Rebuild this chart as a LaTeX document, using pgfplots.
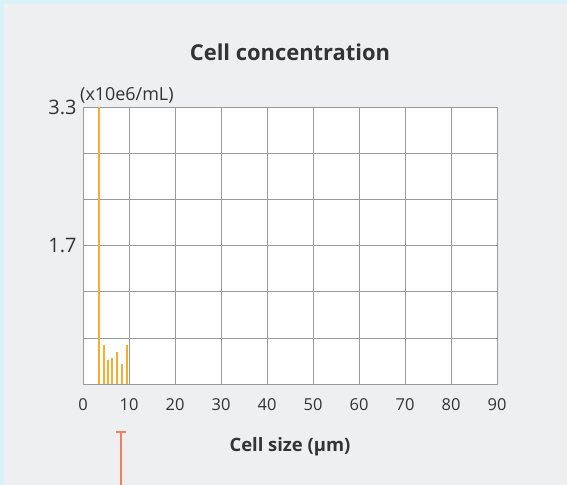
\documentclass[border=0pt]{standalone}
\usepackage{pgfplots}
\pgfplotsset{compat=1.18}
\usepackage{fontspec}
\setmainfont{Open Sans}
\definecolor{bgblue}{HTML}{DAF1F6}
\definecolor{panel}{HTML}{EEEFF0}
\definecolor{gridc}{HTML}{9A9A9A}
\definecolor{barc}{HTML}{F9AC2E}
\definecolor{txt}{HTML}{333333}
\definecolor{marker}{HTML}{F27F60}
\begin{document}
\begin{tikzpicture}[x=1bp,y=1bp]
% axis box lower-left at (0,0): image x=83, y=384
\useasboundingbox (-83,-101) rectangle (484,384);
\fill[bgblue] (-83,-101) rectangle (484,384);
\fill[panel] (-79,-101) rectangle (484,380);
\begin{axis}[
  scale only axis,
  width=414bp, height=277bp,
  xmin=0, xmax=90, ymin=0, ymax=3.3,
  axis background/.style={fill=white},
  xtick={0,10,...,90},
  ytick={0,0.55,1.1,1.65,2.2,2.75,3.3},
  yticklabels={,,,1.7,,,3.3},
  grid=major,
  grid style={gridc, line width=0.6pt},
  axis line style={gridc, line width=0.6pt},
  major tick length=0pt,
  tick label style={text=txt},
  xticklabel style={font=\fontsize{16.5}{19}\selectfont, yshift=-11bp},
  yticklabel style={font=\fontsize{20}{23}\selectfont, xshift=-3bp},
  /pgf/number format/assume math mode=true,
  title={\bfseries Cell concentration},
  title style={font=\fontsize{22}{26}\selectfont, text=txt, yshift=37bp},
  xlabel={\bfseries Cell size (µm)},
  xlabel style={font=\fontsize{18.5}{22}\selectfont, text=txt, yshift=-20bp},
  clip=false,
]
\addplot[ycomb, barc, line width=2bp] coordinates {
 (3.5,3.3) (4.5,0.465) (5.5,0.29) (6.4,0.315) (7.5,0.38) (8.5,0.235) (9.5,0.465)
};
\node[anchor=south west, font=\fontsize{18}{21}\selectfont, text=txt, inner sep=0pt] at (rel axis cs:0,1) [xshift=-3bp, yshift=3bp] {(x10e6/mL)};
\draw[marker, line width=1.8bp] (axis cs:8.3,0) ++(0,-48bp) -- ++(0,-60bp);
\draw[marker, line width=1.8bp] (axis cs:8.3,0) ++(-5bp,-48bp) -- ++(10bp,0);
\end{axis}
\end{tikzpicture}
\end{document}
